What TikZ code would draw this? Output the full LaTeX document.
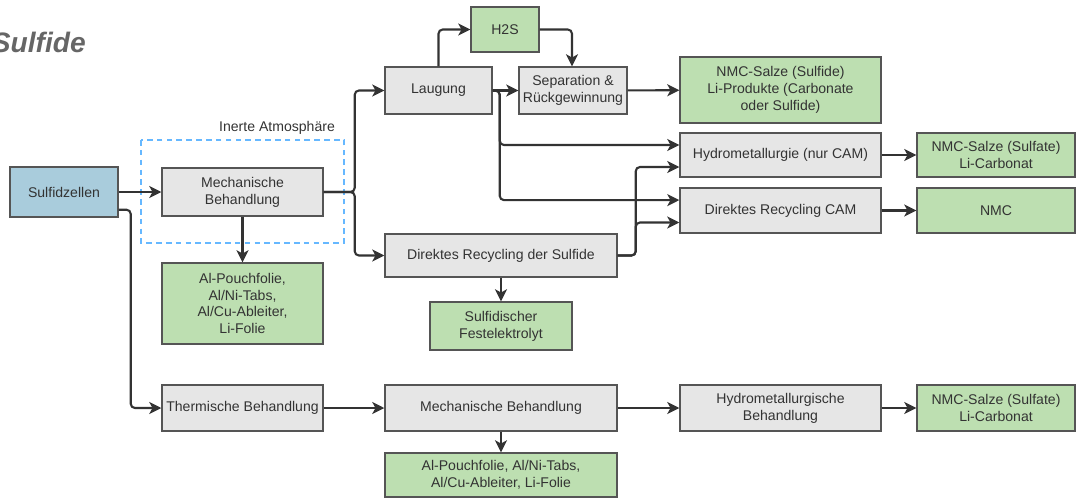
\documentclass[tikz,border=0pt]{standalone}
\usepackage{fontspec}
\setmainfont{Liberation Sans}
\usepackage{xcolor}
\usepackage{tikz}
\usetikzlibrary{arrows.meta, calc}
\definecolor{cellblue}{HTML}{A9CCDC}
\definecolor{procgray}{HTML}{E6E6E6}
\definecolor{prodgreen}{HTML}{BDDFB1}
\definecolor{edge}{HTML}{555555}
\definecolor{flow}{HTML}{333333}
\definecolor{txt}{HTML}{333333}
\definecolor{inert}{HTML}{66B8FF}
\definecolor{titlegray}{HTML}{666666}

\begin{document}
\begin{tikzpicture}
    [x=0.025cm, y=-0.025cm,
     Box/.style={draw=edge, line width=1pt, text=txt, align=center, inner sep=1pt,
                 font=\fontsize{10}{12}\selectfont},
     Box grey/.style={Box, fill=procgray},
     Box green/.style={Box, fill=prodgreen},
     Flow/.style={->, line width=1.5pt, color=flow, rounded corners=3pt},
    >={Stealth[length=3mm, width=3mm, inset=0.8mm]}
    ]
\useasboundingbox (0,0) rectangle (1078,501);

\node[anchor=east, inner sep=0pt, text=titlegray,
      font=\fontsize{20}{22}\selectfont\bfseries\itshape] (title) at (86,42) {Sulfide};

%inert atmosphere frame
\draw[inert, dashed, line width=0.9pt, dash pattern=on 4pt off 3pt] (141,140) rectangle (344,243);
\node[text=txt, font=\fontsize{10}{12}\selectfont] (inertlabel) at (277,128) {Inerte Atmosphäre};

%first column
\node[Box, fill=cellblue, minimum width=2.7cm, minimum height=1.25cm] (cells) at (64,192) {Sulfidzellen};
\node[Box grey, minimum width=4.025cm, minimum height=1.2cm] (mechA) at (242.5,192) {Mechanische\\Behandlung};
\node[Box green, minimum width=4.025cm, minimum height=2.025cm] (foilA) at (242.5,303.5)
    {Al-Pouchfolie,\\Al/Ni-Tabs,\\Al/Cu-Ableiter,\\Li-Folie};
\node[Box grey, minimum width=4.025cm, minimum height=1.15cm] (thermo) at (242.5,408) {Thermische Behandlung};

%second column
\node[Box grey, minimum width=2.675cm, minimum height=1.175cm] (laug) at (438.5,90.5) {Laugung};
\node[Box green, minimum width=1.7cm, minimum height=1.125cm] (htwos) at (505,29.5) {H2S};
\node[Box grey, minimum width=2.7cm, minimum height=1.175cm] (sep) at (573,90.5) {Separation \&\\Rückgewinnung};
\node[Box grey, minimum width=5.8cm, minimum height=1.075cm] (drsulf) at (501,255.5) {Direktes Recycling der Sulfide};
\node[Box green, minimum width=3.55cm, minimum height=1.2cm] (electro) at (501,326) {Sulfidischer\\Festelektrolyt};
\node[Box grey, minimum width=5.8cm, minimum height=1.15cm] (mechB) at (501,408) {Mechanische Behandlung};
\node[Box green, minimum width=5.8cm, minimum height=1.1cm] (foilB) at (501,475)
    {Al-Pouchfolie, Al/Ni-Tabs,\\Al/Cu-Ableiter, Li-Folie};

%third column
\node[Box green, minimum width=5.025cm, minimum height=1.65cm] (saltsA) at (780.5,90)
    {NMC-Salze (Sulfide)\\Li-Produkte (Carbonate\\oder Sulfide)};
\node[Box grey, minimum width=5.025cm, minimum height=1.1cm] (hydroA) at (780.5,155) {Hydrometallurgie (nur CAM)};
\node[Box grey, minimum width=5.025cm, minimum height=1.125cm] (drcam) at (780.5,210.5) {Direktes Recycling CAM};
\node[Box grey, minimum width=5.025cm, minimum height=1.15cm] (hydroB) at (780.5,408) {Hydrometallurgische\\Behandlung};

%fourth column
\node[Box green, minimum width=3.95cm, minimum height=1.1cm] (saltsB) at (996,155) {NMC-Salze (Sulfate)\\Li-Carbonat};
\node[Box green, minimum width=3.95cm, minimum height=1.125cm] (nmc) at (996,210.5) {NMC};
\node[Box green, minimum width=3.95cm, minimum height=1.15cm] (saltsC) at (996,408) {NMC-Salze (Sulfate)\\Li-Carbonat};

%connectors
\draw[Flow] (cells) -- (mechA);
\draw[Flow] ([yshift=0.2cm]cells.south east) -- ++(12,0) |- (thermo);
\draw[Flow] (mechA) -- (foilA);
\draw[Flow] (mechA.east) -- ++(31,0) |- (laug);
\draw[Flow] (mechA.east) -- ++(31,0) |- (drsulf);

\draw[Flow] (laug.north) |- (htwos);
\draw[Flow] (htwos.east) -| ([xshift=-0.025cm]sep.north);
\draw[Flow] (laug) -- (sep);
\draw[Flow] (sep) -- (saltsA);
\draw[Flow] (laug.east) -- ++(7,0) |- ([yshift=0.25cm]hydroA.west);
\draw[Flow] (laug.east) -- ++(7,0) |- ([yshift=0.26cm]drcam.west);

\draw[Flow] (drsulf.east) -- ++(18,0) |- ([yshift=-0.3cm]hydroA.west);
\draw[Flow] (drsulf.east) -- ++(18,0) |- ([yshift=-0.3cm]drcam.west);
\draw[Flow] (drsulf) -- (electro);

\draw[Flow] (hydroA) -- (saltsB);
\draw[Flow] (drcam) -- (nmc);

\draw[Flow] (thermo) -- (mechB);
\draw[Flow] (mechB) -- (hydroB);
\draw[Flow] (hydroB) -- (saltsC);
\draw[Flow] (mechB) -- (foilB);

\end{tikzpicture}
\end{document}
